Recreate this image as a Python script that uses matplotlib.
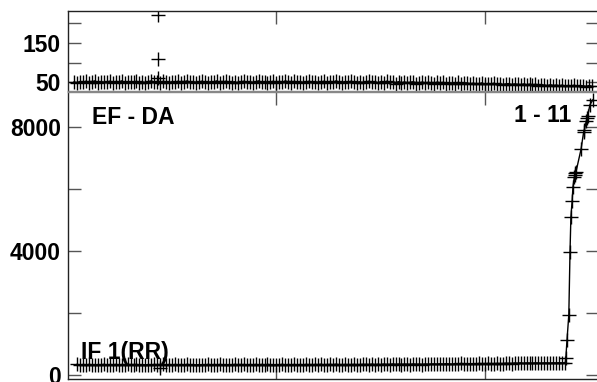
import numpy as np
import matplotlib
matplotlib.use('Agg')
import matplotlib.pyplot as plt

plt.rcParams['font.family'] = ['Liberation Sans', 'DejaVu Sans']
plt.rcParams['font.weight'] = 'bold'

# ---------------- data ----------------
# upper panel (EF - DA), one value per day
top_vals = [50, 48, 51, 49, 52, 47, 50, 53, 48, 51, 49, 50, 52, 47, 51, 49, 53, 48, 50, 51,
            49, 52, 48, 50, 47, 51, 53, 49, 50, 48, 52, 50, 47, 51, 49, 52, 48, 50, 53, 49,
            51, 48, 50, 52, 49, 47, 51, 50, 53, 48, 49, 52, 50, 48, 51, 47, 50, 52, 49, 51,
            48, 50, 53, 49, 51, 47, 50, 52, 48, 51, 49, 53, 50, 48, 52, 49, 51, 47, 50, 52,
            49, 51, 48, 50, 52, 47, 51, 49, 53, 50, 48, 51, 49, 52, 50, 47, 51, 48, 50, 52,
            49, 50, 47, 51, 48, 52, 49, 50, 46, 51, 48, 50, 47, 49, 51, 46, 48, 50, 47, 49,
            48, 46, 50, 47, 49, 45, 48, 47, 46, 49, 45, 47, 48, 44, 47, 46, 45, 48, 44, 46,
            45, 47, 44, 46, 43, 45, 46, 43, 45, 44, 42, 45, 43, 44, 42, 44, 41, 43, 42, 40,
            43, 41, 42, 40, 42, 39, 41, 40, 42, 39, 41, 40, 38, 41, 39]
top_start = 2
top_out_x = [30.3, 30.3, 30.3]
top_out_y = [222, 109, 60]

# lower panel (IF 1(RR)), flat part one value per day
low_flat = [340, 325, 335, 318, 342, 330, 322, 338, 327, 345, 320, 333, 329, 341, 316, 336, 324, 339, 331, 326,
            343, 319, 334, 328, 337, 321, 344, 330, 317, 339, 326, 335, 322, 340, 329, 333, 318, 345, 327, 336,
            324, 338, 331, 320, 342, 328, 335, 323, 340, 330, 319, 337, 326, 344, 332, 321, 339, 329, 334, 325,
            341, 327, 336, 318, 343, 331, 324, 338, 329, 346, 322, 335, 330, 340, 325, 337, 328, 344, 333, 326,
            339, 330, 345, 324, 336, 342, 329, 348, 335, 327, 343, 338, 331, 347, 336, 329, 344, 340, 333, 349,
            337, 345, 332, 350, 341, 336, 352, 339, 346, 334, 351, 343, 338, 355, 342, 347, 336, 353, 344, 349,
            358, 345, 362, 350, 366, 355, 348, 368, 357, 372, 360, 351, 370, 363, 356, 374, 365, 359, 376, 368,
            362, 378, 370, 365, 381, 373, 368, 384, 376, 390, 371, 386, 379, 374, 388, 382, 377, 391, 385, 380,
            393, 387, 396, 389, 398]
low_start = 3
# steep rise at the end
rise_x = [167.2, 167.6, 168.2, 168.6, 168.9, 169.3, 169.6, 170.1, 170.3, 170.4, 170.6,
          172.3, 173.2, 173.4, 174.1, 174.3, 174.5, 175.3, 176.3]
rise_y = [550, 1140, 1950, 3970, 5100, 5600, 6080, 6400, 6500, 6450, 6550,
          7280, 7850, 7900, 8200, 8290, 8350, 8720, 8880]
low_out_x = [31]
low_out_y = [230]

x_top = np.arange(top_start, top_start + len(top_vals))
x_low = np.concatenate([np.arange(low_start, low_start + len(low_flat)), rise_x])
y_low = np.concatenate([low_flat, rise_y])

# ---------------- figure ----------------
fig = plt.figure(figsize=(5.97, 3.82), dpi=100)
W, H = 597.0, 382.0
left, right = 68 / W, 598 / W
ax1 = fig.add_axes([left, 1 - 91 / H, right - left, 80 / H])
ax2 = fig.add_axes([left, 1 - 379 / H, right - left, 287 / H])

mk = dict(marker='+', ms=9.5, mew=1.0, color='black', lw=1.0)

ax1.plot(x_top, top_vals, **mk)
ax1.plot(top_out_x, top_out_y, ls='none', marker='+', ms=9.5, mew=1.0, color='black')
ax2.plot(x_low, y_low, **mk)
ax2.plot(low_out_x, low_out_y, ls='none', marker='+', ms=9.5, mew=1.0, color='black')

ax1.set_ylim(27, 232)
ax2.set_ylim(-129, 9129)
for ax in (ax1, ax2):
    ax.set_xlim(0, 178)
    ax.set_xticks([70, 140])
    ax.set_xticklabels([])
    ax.tick_params(which='both', direction='in', length=9, width=1, color='#555555',
                   top=True, right=True, labelsize=16.5, pad=5)
    for s in ax.spines.values():
        s.set_color('#222222')
        s.set_linewidth(1.0)

ax1.set_yticks([50, 150])
ax1.set_yticks([100, 200], minor=True)
ax2.set_yticks([0, 4000, 8000])
ax2.set_yticks([2000, 6000], minor=True)
ax1.spines['bottom'].set_color('#888888')
ax2.spines['top'].set_color('#888888')
for ax in (ax1, ax2):
    for lab in ax.get_yticklabels():
        lab.set_fontweight('bold')

ax2.text(92 / W, 1 - 117 / H, 'EF - DA', transform=fig.transFigure, fontsize=16.5,
         fontweight='bold', va='center', ha='left')
ax2.text(571 / W, 1 - 116 / H, '1 - 11', transform=fig.transFigure, fontsize=16.5,
         fontweight='bold', va='center', ha='right')
ax2.text(81 / W, 1 - 352 / H, 'IF 1(RR)', transform=fig.transFigure, fontsize=16.5,
         fontweight='bold', va='center', ha='left')

fig.savefig('out.png', dpi=100)
